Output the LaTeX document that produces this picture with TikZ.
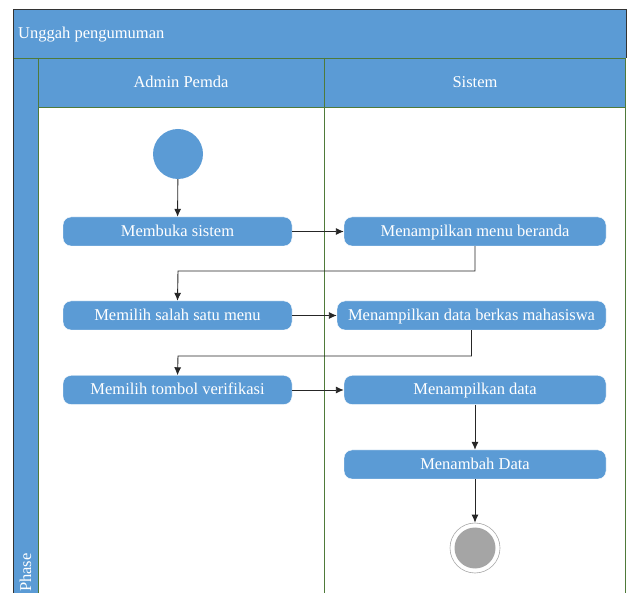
\documentclass[tikz,border=0pt]{standalone}
\usepackage{fontspec}
\setmainfont{Liberation Serif}
\usetikzlibrary{arrows.meta}
\definecolor{lane}{HTML}{5B9BD5}
\definecolor{laneline}{HTML}{4F7A3A}
\definecolor{endgray}{HTML}{A5A5A5}
\tikzset{
  act/.style={rectangle, rounded corners=8pt, fill=lane, draw=white, line width=0.4pt,
    minimum width=229pt, minimum height=29pt, text=white, font=\fontsize{16.5}{19}\selectfont,
    inner sep=0pt, text height=12pt, text depth=2pt},
  actw/.style={act, minimum width=262pt},
  conn/.style={draw=black!85, line width=0.9pt, -{Latex[length=8pt,width=7pt]}},
  hdr/.style={text=white, font=\fontsize{16.5}{19}\selectfont, text height=12pt, text depth=2pt},
}
\begin{document}
\begin{tikzpicture}[x=1pt,y=-1pt]
\useasboundingbox (0,0) rectangle (627,593);
\begin{scope}
\clip (0,0) rectangle (627,593);
% title band
\fill[lane] (13,9) rectangle (626,58);
% header band
\fill[lane] (38,58) rectangle (626,107);
% phase bar
\fill[lane] (13,58) rectangle (38,600);
% lines
\draw[laneline, line width=0.9pt] (13,58) -- (626,58);
\draw[laneline, line width=0.9pt] (38,107) -- (626,107);
\draw[laneline, line width=0.9pt] (38,58) -- (38,600);
\draw[laneline, line width=0.9pt] (324,58) -- (324,600);
\draw[laneline, line width=0.9pt] (625.5,58) -- (625.5,600);
\draw[laneline, line width=0.9pt] (13,58) -- (13,600);
\draw[black!80, line width=0.9pt] (13,600) -- (13,9) -- (626,9) -- (626,58);
\node[hdr, anchor=west, inner sep=0pt] (title) at (18,34) {Unggah pengumuman};
\node[hdr] (admin) at (181,83) {Admin Pemda};
\node[hdr] (sistem) at (475,83) {Sistem};
\node[hdr, rotate=90, anchor=west, inner sep=0pt] (phase) at (26,592) {Phase};
\end{scope}
% nodes
\node[circle, fill=lane, minimum size=50pt, inner sep=0pt] (start) at (178,154) {};
\node[act] (a1) at (177.5,231.5) {Membuka sistem};
\node[actw] (s1) at (475,231.5) {Menampilkan menu beranda};
\node[act] (a2) at (177.5,315.5) {Memilih salah satu menu};
\node[act, minimum width=269pt] (s2) at (471.5,315.5) {Menampilkan data berkas mahasiswa};
\node[act] (a3) at (177.5,390) {Memilih tombol verifikasi};
\node[actw] (s3) at (475,390) {Menampilkan data};
\node[actw] (s4) at (475,464.5) {Menambah Data};
\node[circle, draw=black!35, line width=0.6pt, minimum size=50pt, inner sep=0pt] (end) at (475,548) {};
\node[circle, fill=endgray, minimum size=41pt, inner sep=0pt] (endin) at (end) {};
% connectors
\draw[conn] (start) -- (a1);
\draw[conn] (a1) -- (s1);
\draw[conn] (s1.south) |- (178,271) -- (a2.north);
\draw[conn] (a2) -- (s2);
\draw[conn] (s2.south) |- (178,356) -- (a3.north);
\draw[conn] (a3) -- (s3);
\draw[conn] (s3) -- (s4);
\draw[conn] (s4) -- (end);
\end{tikzpicture}
\end{document}
